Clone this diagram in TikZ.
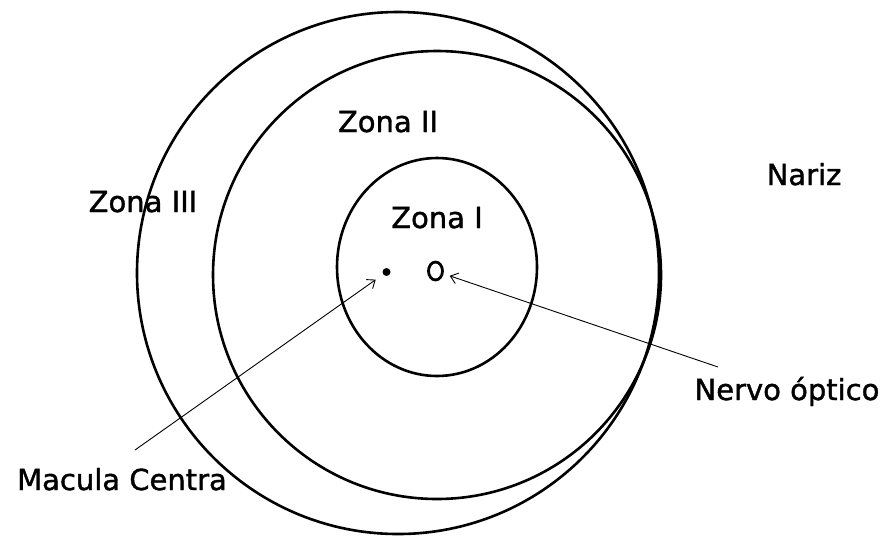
\documentclass[tikz,border=0pt]{standalone}
\usepackage{fontspec}
\setmainfont[FakeBold=1.3,AutoFakeBold=1.3]{DejaVu Sans}
\usepackage{tikz}
\usetikzlibrary{arrows.meta,shapes.geometric}

\begin{document}
\begin{tikzpicture}[x=1pt, y=-1pt, >={Straight Barb[length=7pt,width=11pt]}]
\tikzstyle{lbl}=[inner sep=0pt, anchor=base, font=\fontsize{29}{34}\selectfont\bfseries]
\tikzstyle{ring}=[line width=2.6pt]
\tikzstyle{arr}=[->, line width=0.9pt]
\useasboundingbox (0,0) rectangle (893,539);
% zonas
\draw[ring] (398,273) circle (261);
\draw[ring] (437,275) circle (224);
\draw[ring] (437,267) ellipse (100 and 109);
% macula e nervo
\node[circle, fill, inner sep=0pt, minimum size=8pt] (mac) at (386.5,272) {};
\node[ellipse, draw, line width=2.8pt, inner sep=0pt, minimum width=14pt, minimum height=18pt] (nrv) at (435.5,271) {};
% textos
\node[lbl] (z1) at (437,228) {Zona I};
\node[lbl] (z2) at (388,132) {Zona II};
\node[lbl] (z3) at (143,212) {Zona III};
\node[lbl] (nz) at (804,185) {Nariz};
\node[lbl] (no) at (787,400) {Nervo óptico};
\node[lbl] (mc) at (122,490) {Macula Centra};
\coordinate (mcs) at (135,450);
\coordinate (nos) at (718,367);
\draw[arr, shorten >=9pt] (mcs) -- (mac);
\draw[arr, shorten >=15pt] (nos) -- (nrv.center);
\end{tikzpicture}
\end{document}
